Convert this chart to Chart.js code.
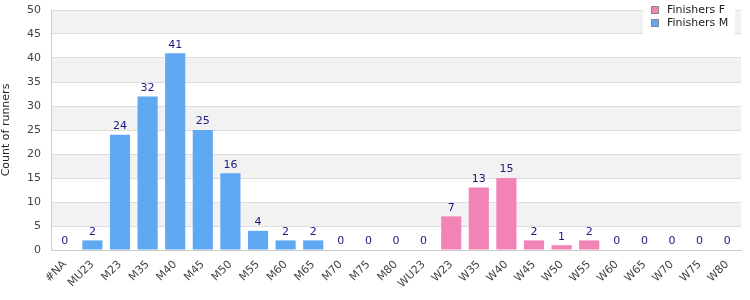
<!DOCTYPE html>
<html>
<head>
<meta charset="utf-8">
<script src="https://cdn.jsdelivr.net/npm/chart.js@4"></script>
<style>
  html, body { margin: 0; padding: 0; background: #fff; }
  #wrap { width: 750px; height: 300px; }
</style>
</head>
<body>
<div id="wrap"><canvas id="runnersChart"></canvas></div>
<script>
const categories = ['#NA', 'MU23', 'M23', 'M35', 'M40', 'M45', 'M50', 'M55', 'M60', 'M65', 'M70', 'M75', 'M80',
  'WU23', 'W23', 'W35', 'W40', 'W45', 'W50', 'W55', 'W60', 'W65', 'W70', 'W75', 'W80'];
const finishersM = [0, 2, 24, 32, 41, 25, 16, 4, 2, 2, 0, 0, 0,
  null, null, null, null, null, null, null, null, null, null, null, null];
const finishersF = [null, null, null, null, null, null, null, null, null, null, null, null, null,
  0, 7, 13, 15, 2, 1, 2, 0, 0, 0, 0, 0];
const yTicks = [0, 5, 10, 15, 20, 25, 30, 35, 40, 45, 50];

const FONT = 'DejaVu Sans';

// alternating background bands behind the bars
const bandPlugin = {
  id: 'bands',
  beforeDraw(chart) {
    const { ctx, chartArea, scales } = chart;
    const y = scales.y;
    ctx.save();
    ctx.fillStyle = '#f2f2f2';
    for (let i = 1; i < yTicks.length; i += 2) {
      const top = y.getPixelForValue(yTicks[i] + 5);
      const bot = y.getPixelForValue(yTicks[i]);
      ctx.fillRect(chartArea.left, top, chartArea.right - chartArea.left, bot - top);
    }
    ctx.restore();
  }
};

// value labels above each bar
const valueLabels = {
  id: 'valueLabels',
  afterDatasetsDraw(chart) {
    const { ctx } = chart;
    ctx.save();
    ctx.fillStyle = '#1a1a80';
    ctx.font = '11px ' + FONT;
    ctx.textAlign = 'center';
    ctx.textBaseline = 'bottom';
    chart.data.datasets.forEach((ds, di) => {
      const meta = chart.getDatasetMeta(di);
      meta.data.forEach((bar, i) => {
        const v = ds.data[i];
        if (v === null || v === undefined) return;
        ctx.fillText(String(v), bar.x, bar.y - 3);
      });
    });
    ctx.restore();
  }
};

// legend box drawn over the top-right corner of the plot
const cornerLegend = {
  id: 'cornerLegend',
  afterDraw(chart) {
    const { ctx, chartArea } = chart;
    const items = [['Finishers F', '#f283b6'], ['Finishers M', '#5fa8f2']];
    ctx.save();
    const x0 = chartArea.right - 98;
    ctx.fillStyle = '#fff';
    ctx.fillRect(x0, 0, 92, 34);
    ctx.font = '11px ' + FONT;
    ctx.textBaseline = 'middle';
    items.forEach(([label, color], i) => {
      const cy = 10 + i * 13;
      ctx.fillStyle = color;
      ctx.fillRect(x0 + 8, cy - 4, 8, 8);
      ctx.strokeStyle = '#888';
      ctx.lineWidth = 1;
      ctx.strokeRect(x0 + 8.5, cy - 3.5, 7, 7);
      ctx.fillStyle = '#222';
      ctx.fillText(label, x0 + 24, cy);
    });
    ctx.restore();
  }
};

new Chart(document.getElementById('runnersChart'), {
  type: 'bar',
  data: {
    labels: categories,
    datasets: [
      { label: 'Finishers F', data: finishersF, backgroundColor: '#f283b6' },
      { label: 'Finishers M', data: finishersM, backgroundColor: '#5fa8f2' }
    ]
  },
  options: {
    responsive: true,
    maintainAspectRatio: false,
    animation: false,
    layout: { padding: { top: 10, right: 9, left: 0, bottom: 0 } },
    datasets: { bar: { barPercentage: 0.73, categoryPercentage: 1, skipNull: true } },
    plugins: {
      legend: { display: false },
      tooltip: { enabled: false }
    },
    scales: {
      x: {
        stacked: true,
        grid: { display: false },
        border: { color: '#cccccc' },
        afterFit(scale) { scale.height = 50; scale.paddingLeft = 0; scale.paddingRight = 0; },
        ticks: {
          color: '#444', font: { family: FONT, size: 11 },
          minRotation: 45, maxRotation: 45, autoSkip: false, padding: 0
        }
      },
      y: {
        stacked: false,
        min: 0, max: 50,
        grid: { color: '#dddddd', drawTicks: false },
        border: { color: '#cccccc' },
        afterFit(scale) { scale.width = 51; scale.paddingTop = 0; scale.paddingBottom = 0; },
        ticks: {
          stepSize: 5, color: '#444', padding: 10,
          font: { family: FONT, size: 11 }
        },
        title: {
          display: true, text: 'Count of runners', color: '#222',
          font: { family: FONT, size: 11 }, padding: { top: 0, bottom: 6 }
        }
      }
    }
  },
  plugins: [bandPlugin, valueLabels, cornerLegend]
});
</script>
</body>
</html>
